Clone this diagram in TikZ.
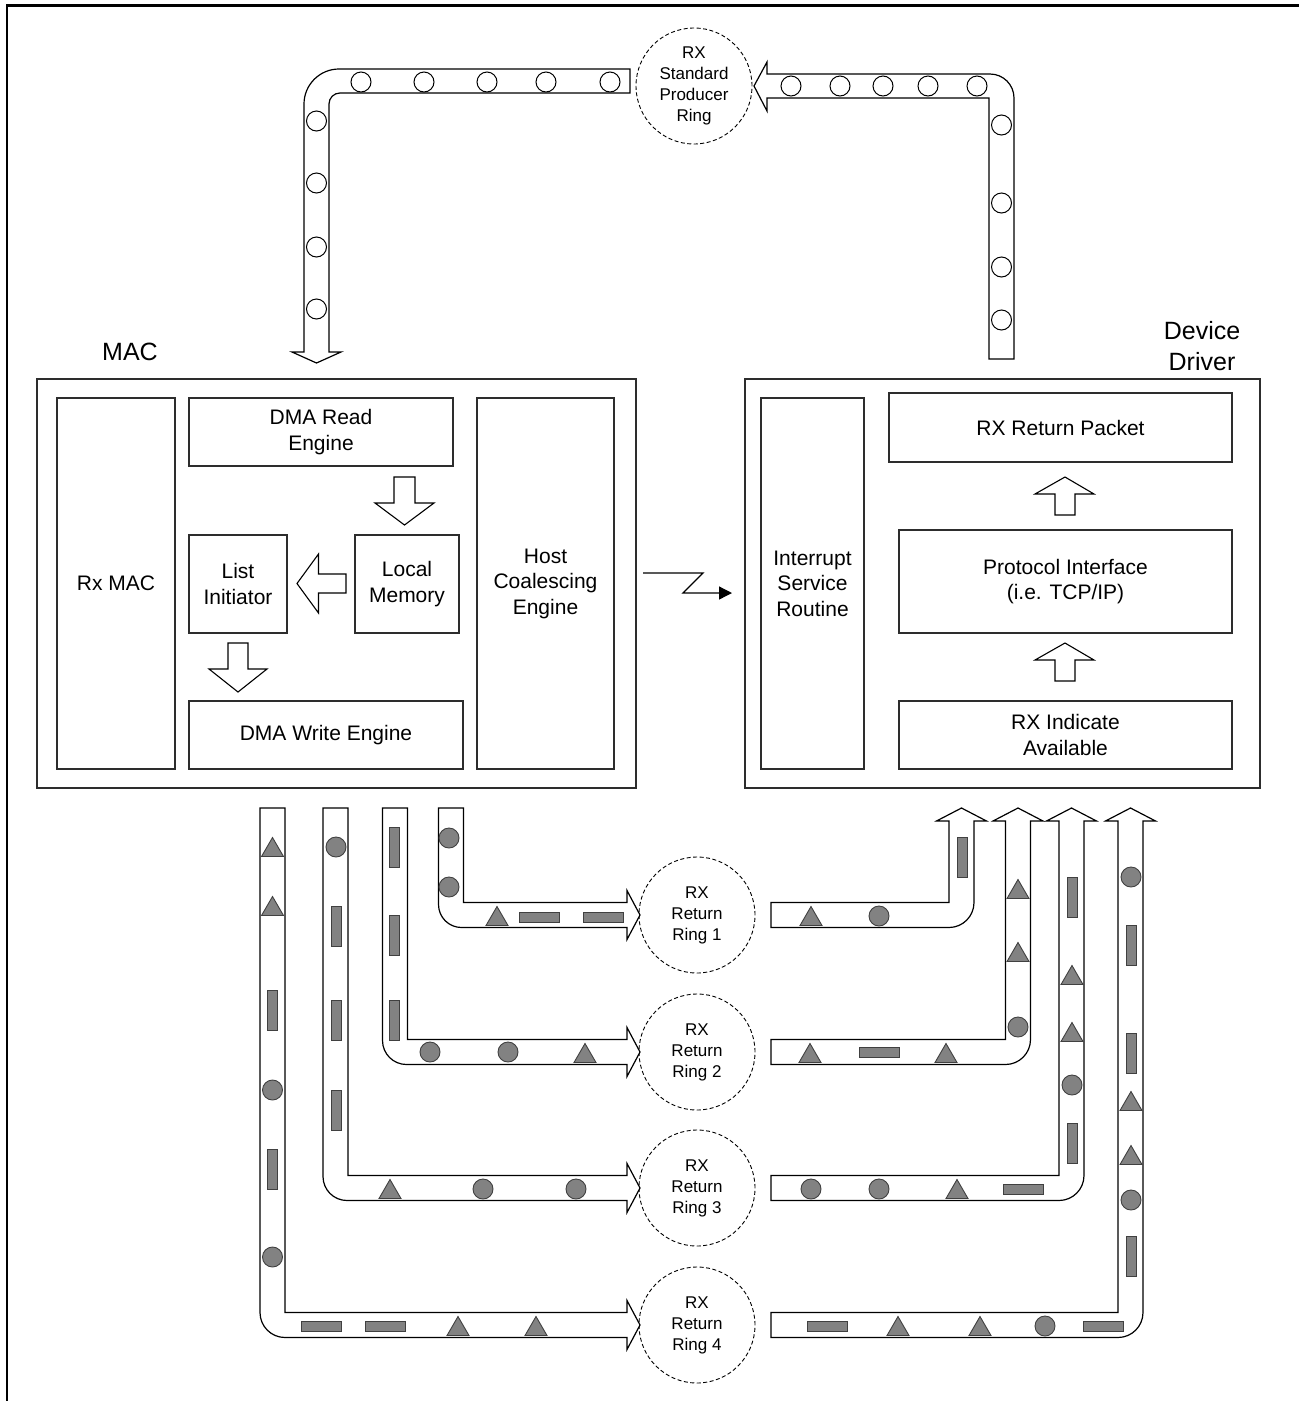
\documentclass[tikz,border=0pt]{standalone}
\usepackage{fontspec}
\setmainfont{Liberation Sans}
\usetikzlibrary{arrows.meta}
\definecolor{pkt}{RGB}{130,130,130}
\definecolor{edge}{RGB}{45,45,45}
\tikzset{
  box/.style={draw=edge, line width=1.3pt, fill=white, align=center, inner sep=0pt, font=\fontsize{21}{25.5}\selectfont},
  chan/.style={draw=black, line width=1.2pt, fill=white},
  blk/.style={draw=black, line width=1.1pt, fill=white},
  ringnode/.style={circle, draw=black, dash pattern=on 4pt off 2.5pt, line width=0.9pt, minimum size=116pt, inner sep=0pt, align=center, font=\fontsize{17}{21}\selectfont},
  ocirc/.style={draw=black, line width=1pt, fill=white},
  pk/.style={draw=black!75, line width=0.9pt, fill=pkt},
  lbl/.style={align=center, font=\fontsize{25}{31}\selectfont},
}
\newcommand\pcirc[2]{\draw[pk] (#1,#2) circle[radius=10pt];}
\newcommand\ocir[2]{\draw[ocirc] (#1,#2) circle[radius=10pt];}
\newcommand\ptri[2]{\draw[pk] (#1-11,#2+9.5) -- (#1+11,#2+9.5) -- (#1,#2-9.5) -- cycle;}
\newcommand\phrect[2]{\draw[pk] (#1-20,#2-5) rectangle (#1+20,#2+5);}
\newcommand\pvrect[2]{\draw[pk] (#1-5,#2-20) rectangle (#1+5,#2+20);}
% left channel: #1 vertical centre x, #2 ring centre y, #3 corner radius
\newcommand\lchan[3]{\draw[chan] (#1-12.5,808) -- (#1-12.5,#2+12.5-#3) .. controls (#1-12.5,#2+12.5-0.4477*#3) and (#1-12.5+0.4477*#3,#2+12.5) .. (#1-12.5+#3,#2+12.5) -- (627,#2+12.5) -- (627,#2+24.5) -- (640,#2) -- (627,#2-24.5) -- (627,#2-12.5) -- (#1+12.5,#2-12.5) -- (#1+12.5,808) -- cycle;}
% right channel
\newcommand\rchan[3]{\draw[chan] (771,#2-12.5) -- (#1-12.5,#2-12.5) -- (#1-12.5,821) -- (#1-25,821) -- (#1,808) -- (#1+25,821) -- (#1+12.5,821) -- (#1+12.5,#2+12.5-#3) .. controls (#1+12.5,#2+12.5-0.4477*#3) and (#1+12.5-0.4477*#3,#2+12.5) .. (#1+12.5-#3,#2+12.5) -- (771,#2+12.5) -- cycle;}
\begin{document}
\begin{tikzpicture}[x=1pt,y=-1pt]
\useasboundingbox (0,0) rectangle (1299,1401);
% frame
\draw[line width=2.2pt] (7,1401) -- (7,5.5) -- (1299,5.5);

% labels
\node[lbl] (maclbl) at (130,352) {MAC};
\node[lbl] (ddlbl) at (1202,346) {Device\\Driver};

% MAC block
\node[box, minimum width=599pt, minimum height=409pt] (mac) at (336.5,583.5) {};
\node[box, minimum width=118pt, minimum height=371pt] (rxmac) at (116,583.5) {Rx MAC};
\node[box, minimum width=264pt, minimum height=68pt] (dmar) at (321,432) {DMA Read\\Engine};
\node[box, minimum width=98pt, minimum height=98pt] (listi) at (238,584) {List\\Initiator};
\node[box, minimum width=104pt, minimum height=98pt] (locm) at (407,584) {Local\\Memory};
\node[box, minimum width=274pt, minimum height=68pt] (dmaw) at (326,735) {DMA Write Engine};
\node[box, minimum width=137pt, minimum height=371pt] (hce) at (545.5,583.5) {Host\\Coalescing\\Engine};

\draw[blk] (394,477) -- (415,477) -- (415,503) -- (434,503) -- (404.5,525) -- (375,503) -- (394,503) -- cycle;
\draw[blk] (346,574) -- (346,593) -- (318.5,593) -- (318.5,613) -- (297,583.5) -- (318.5,554) -- (318.5,574) -- cycle;
\draw[blk] (228,643) -- (248,643) -- (248,669) -- (267,669) -- (238,692) -- (209,669) -- (228,669) -- cycle;

% Device driver block
\node[box, minimum width=515pt, minimum height=409pt] (dd) at (1002.5,583.5) {};
\node[box, minimum width=103pt, minimum height=371pt] (isr) at (812.5,583.5) {Interrupt\\Service\\Routine};
\node[box, minimum width=343pt, minimum height=69pt] (rrp) at (1060.5,427.5) {RX Return Packet};
\node[box, minimum width=333pt, minimum height=103pt] (proto) at (1065.5,581.5) {Protocol Interface\\(i.e. TCP/IP)};
\node[box, minimum width=333pt, minimum height=68pt] (rxia) at (1065.5,735) {RX Indicate\\Available};

\draw[blk] (1055,515) -- (1075,515) -- (1075,494) -- (1094,494) -- (1065,477) -- (1035,494) -- (1055,494) -- cycle;
\draw[blk] (1055,681) -- (1075,681) -- (1075,660) -- (1094,660) -- (1065,643) -- (1035,660) -- (1055,660) -- cycle;

% interrupt signal
\coordinate (z0) at (643,573);
\coordinate (z1) at (703,573);
\coordinate (z2) at (683,593);
\coordinate (z3) at (732,593);
\draw[line width=1.3pt, -{Triangle[length=13pt,width=13pt]}] (z0) -- (z1) -- (z2) -- (z3);

% producer ring and its channels
\node[ringnode] (prod) at (694,86) {RX\\Standard\\Producer\\Ring};
\draw[chan] (630,69) -- (339,69) .. controls (319.7,69) and (304,84.7) .. (304,104) -- (304,352) -- (292,352) -- (316.5,363) -- (341,352) -- (329,352) -- (329,104) .. controls (329,97.9) and (333.9,93) .. (340,93) -- (630,93) -- cycle;
\ocir{361}{82}\ocir{424}{82}\ocir{487}{82}\ocir{546}{82}\ocir{610}{82}
\ocir{316.5}{121}\ocir{316.5}{183}\ocir{316.5}{247}\ocir{316.5}{309}

\draw[chan] (1014,359) -- (1014,98) .. controls (1014,84.7) and (1003.3,74) .. (990,74) -- (767,74) -- (767,62) -- (754,86) -- (767,111) -- (767,98) -- (989,98) -- (989,359) -- cycle;
\ocir{791}{86}\ocir{840}{86}\ocir{883}{86}\ocir{928}{86}\ocir{977}{86}
\ocir{1001.5}{125}\ocir{1001.5}{203}\ocir{1001.5}{267}\ocir{1001.5}{320}

% return rings
\node[ringnode] (r1) at (697,915) {RX\\Return\\Ring 1};
\node[ringnode] (r2) at (697,1052) {RX\\Return\\Ring 2};
\node[ringnode] (r3) at (697,1188) {RX\\Return\\Ring 3};
\node[ringnode] (r4) at (697,1325) {RX\\Return\\Ring 4};

% left channels (MAC -> rings)
\lchan{272.5}{1325}{25}
\lchan{335.5}{1188}{24}
\lchan{395}{1052}{24}
\lchan{451}{915}{23}
% ch1
\pcirc{449}{838}\pcirc{449}{887}
\ptri{497}{916}\phrect{539}{917}\phrect{603}{917}
% ch2
\pvrect{394}{847}\pvrect{394}{935}\pvrect{394}{1020}
\pcirc{430}{1052}\pcirc{508}{1052}\ptri{585}{1053}
% ch3
\pcirc{336}{847}\pvrect{336}{926}\pvrect{336}{1020}\pvrect{336}{1110}
\ptri{390}{1189}\pcirc{483}{1189}\pcirc{576}{1189}
% ch4
\ptri{272.5}{847}\ptri{272.5}{906}\pvrect{272.5}{1010}\pcirc{272.5}{1090}\pvrect{272.5}{1169}\pcirc{272.5}{1257}
\phrect{321}{1326}\phrect{385}{1326}\ptri{458}{1326}\ptri{536}{1326}

% right channels (rings -> driver)
\rchan{1130.5}{1325}{25}
\rchan{1071.5}{1188}{25}
\rchan{1018}{1052}{25}
\rchan{961.5}{915}{25}
% r1
\ptri{811}{916}\pcirc{879}{916}\pvrect{962}{857}
% r2
\ptri{810}{1053}\phrect{879}{1052}\ptri{946}{1053}
\ptri{1018}{889}\ptri{1018}{952}\pcirc{1018}{1027}
% r3
\pcirc{811}{1189}\pcirc{879}{1189}\ptri{957}{1189}\phrect{1023}{1189}
\pvrect{1072}{897}\ptri{1072}{975}\ptri{1072}{1032}\pcirc{1072}{1085}\pvrect{1072}{1143}
% r4
\phrect{827}{1326}\ptri{898}{1326}\ptri{980}{1326}\pcirc{1045}{1326}\phrect{1103}{1326}
\pcirc{1131}{877}\pvrect{1131}{945}\pvrect{1131}{1053}\ptri{1131}{1101}\ptri{1131}{1155}\pcirc{1131}{1200}\pvrect{1131}{1256}
\end{tikzpicture}
\end{document}
